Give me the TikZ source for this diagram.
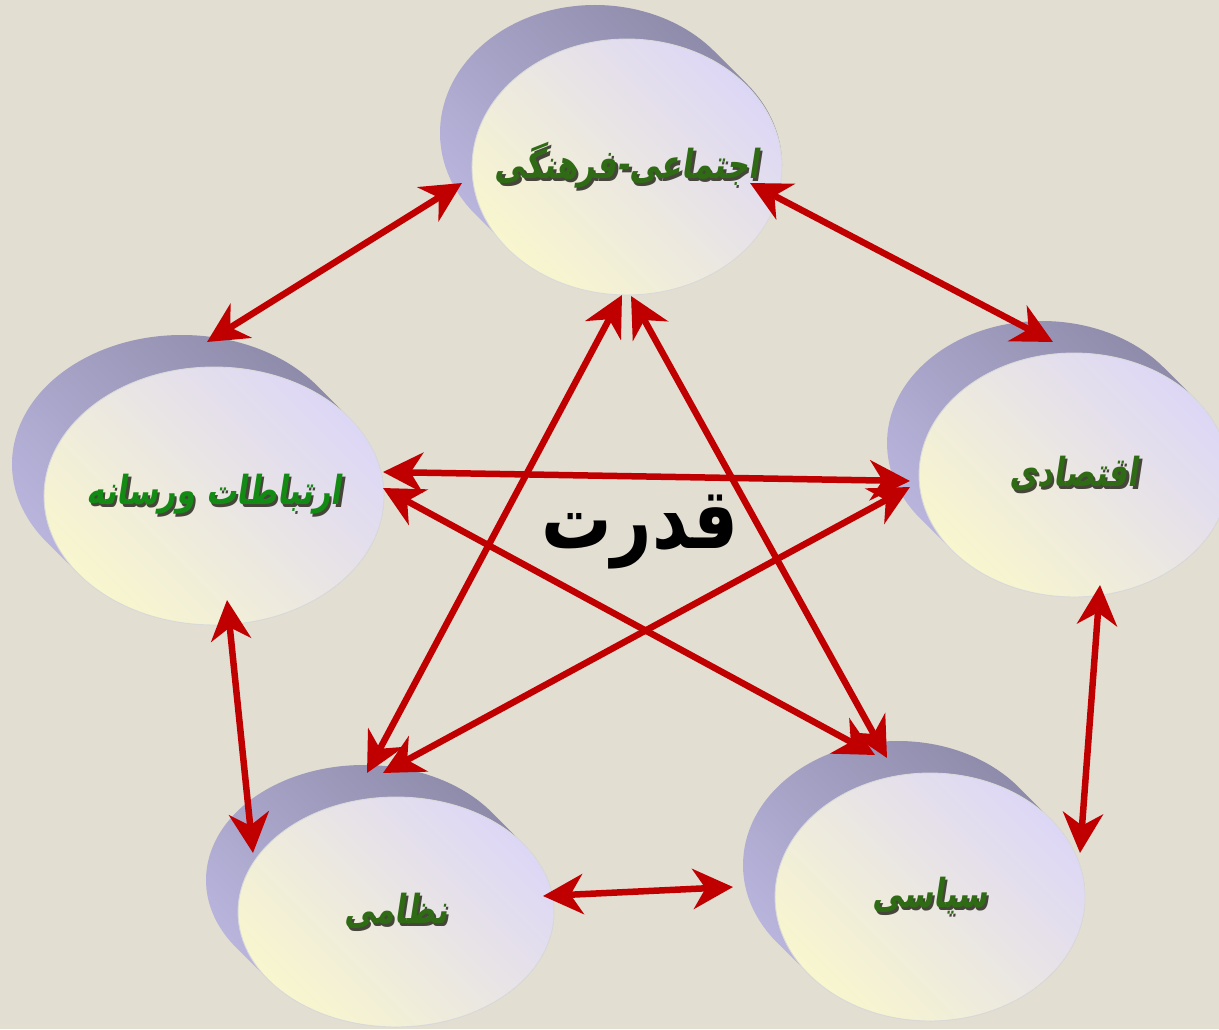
\documentclass[tikz,border=0pt]{standalone}
\usepackage{fontspec}
\usepackage{xcolor}
\usetikzlibrary{calc,shapes.geometric,arrows.meta}
\TeXXeTstate=1
\newfontfamily\arabicfont[Script=Arabic]{DejaVu Sans}
\newfontfamily\lblfont[Script=Arabic,FakeSlant=0.2]{DejaVu Sans}
\definecolor{bgbeige}{HTML}{E3DED2}
\definecolor{mred}{HTML}{C00000}
\definecolor{lblgreen}{HTML}{2F6A14}
\definecolor{lblbright}{HTML}{138A13}
\definecolor{lblshadow}{HTML}{45453A}
\definecolor{disclav}{HTML}{DDD7F6}
\definecolor{discmid}{HTML}{EEEBE8}
\definecolor{discyel}{HTML}{F8F6CE}
\definecolor{sidedark}{HTML}{8A86A4}
\definecolor{sidelight}{HTML}{BDB9E2}
\tikzset{
  >=Stealth,
  disc/.style={ellipse,inner sep=0pt,draw=white!70!gray,line width=0.5pt,
    top color=disclav,middle color=discmid,bottom color=discyel,shading angle=-45,
    font=\lblfont\bfseries\fontsize{17.5}{21}\selectfont},
  side shade/.style={top color=sidedark,bottom color=sidelight,shading angle=-45},
  link/.style={{Stealth[length=0.8cm,width=0.8cm,inset=0.25cm]}-{Stealth[length=0.8cm,width=0.8cm,inset=0.25cm]},
    line width=0.13cm,mred}
}
% side wall of a disc: centre x, centre y, x radius, y radius
\newcommand\discside[4]{%
  \pgfmathsetmacro\sideang{atan(#4/#3)}
  \shade[side shade] ($(#1,#2)+(-32,32)+({#3*cos(\sideang)},{#4*sin(\sideang)})$)
    arc[start angle=\sideang,end angle=\sideang+180,x radius=#3,y radius=#4]
    -- ++(32,-32)
    arc[start angle=\sideang+180,end angle=\sideang+360,x radius=#3,y radius=#4] -- cycle;}
% green label with its dark shadow
\newcommand\arlbl[2]{\makebox[0pt]{\scalebox{1}[1.3]{\rlap{\kern1.3pt\raisebox{-1.3pt}{\color{lblshadow}#2}}\color{#1}#2}}}

\begin{document}
\begin{tikzpicture}[x=0.02cm,y=0.02cm]

  \useasboundingbox (0,0) rectangle (1219,1029);
  \clip (0,0) rectangle (1219,1029);
  \fill[bgbeige] (0,0) rectangle (1219,1029);

  % discs
  \discside{627}{864}{155}{128}
  \node[disc,minimum width=6.2cm,minimum height=5.12cm] (soc) at (627,862) {\arlbl{lblgreen}{\beginR اجتماعی-فرهنگی\endR}};
  \discside{214}{533}{170}{129}
  \node[disc,minimum width=6.8cm,minimum height=5.16cm] (com) at (214,533) {\arlbl{lblbright}{\beginR ارتباطات ورسانه\endR}};
  \discside{1074}{554}{155}{122}
  \node[disc,minimum width=6.2cm,minimum height=4.88cm] (eco) at (1074,554) {\arlbl{lblgreen}{\beginR اقتصادی\endR}};
  \discside{396}{117}{158}{115}
  \node[disc,minimum width=6.32cm,minimum height=4.6cm] (mil) at (396,117) {\arlbl{lblgreen}{\beginR نظامی\endR}};
  \discside{930}{132}{155}{124}
  \node[disc,minimum width=6.2cm,minimum height=4.96cm] (pol) at (930,132) {\arlbl{lblgreen}{\beginR سیاسی\endR}};

  % arrows
  \draw[link] ($(soc)+(-165,-16)$) -- ($(com)+(-7,154)$);
  \draw[link] ($(soc)+(123,-16)$) -- ($(eco)+(-21,133)$);
  \draw[link] ($(soc)+(-5,-128)$) -- ($(mil)+(-29,139)$);
  \draw[link] ($(soc)+(4,-129)$) -- ($(pol)+(-43,139)$);
  \draw[link] ($(com)+(169,24)$) -- ($(eco)+(-164,-6)$);
  \draw[link] ($(com)+(169,8)$) -- ($(pol)+(-55,142)$);
  \draw[link] ($(eco)+(-164,-12)$) -- ($(mil)+(-13,139)$);
  \draw[link] ($(com)+(13,-104)$) -- ($(mil)+(-143,59)$);
  \draw[link] ($(eco)+(26,-110)$) -- ($(pol)+(150,44)$);
  \draw[link] ($(mil)+(147,16)$) -- ($(pol)+(-197,10)$);

  % centre label
  \node[font=\arabicfont\bfseries\fontsize{40}{48}\selectfont] (power) at (640,497) {\scalebox{1}[1.2]{\beginR قدرت\endR}};

\end{tikzpicture}
\end{document}
